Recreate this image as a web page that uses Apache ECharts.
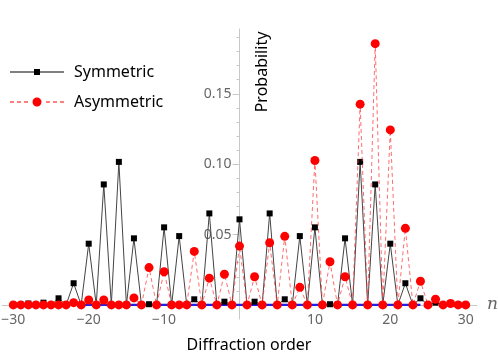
<!DOCTYPE html>
<html>
<head>
<meta charset="utf-8">
<script src="https://cdn.jsdelivr.net/npm/echarts@6/dist/echarts.min.js"></script>
<style>
  html, body { margin: 0; padding: 0; background: #fff; }
  #chart { width: 498px; height: 357px; }
</style>
</head>
<body>
<div id="chart"></div>
<script>
// diffraction orders -30 .. 30
const orders = [
  -30, -29, -28, -27, -26, -25, -24, -23, -22, -21, -20, -19, -18, -17, -16, -15,
  -14, -13, -12, -11, -10, -9, -8, -7, -6, -5, -4, -3, -2, -1, 0,
  1, 2, 3, 4, 5, 6, 7, 8, 9, 10, 11, 12, 13, 14, 15,
  16, 17, 18, 19, 20, 21, 22, 23, 24, 25, 26, 27, 28, 29, 30
];
const symmetric = [
  0, 0, 0.001, 0, 0.0016, 0, 0.0047, 0, 0.0154, 0, 0.0435, 0, 0.0856, 0, 0.1016, 0,
  0.0473, 0, 0.0005, 0, 0.0551, 0, 0.0489, 0, 0.004, 0, 0.065, 0, 0.0023, 0, 0.0608,
  0, 0.0023, 0, 0.065, 0, 0.004, 0, 0.0489, 0, 0.0551, 0, 0.0005, 0, 0.0473, 0,
  0.1016, 0, 0.0856, 0, 0.0435, 0, 0.0154, 0, 0.0047, 0, 0.0016, 0, 0.001, 0, 0
];
const asymmetric = [
  0, 0, 0, 0, 0, 0, 0, 0, 0.0016, 0, 0.0035, 0, 0.0035, 0, 0, 0,
  0.005, 0, 0.0265, 0, 0.0236, 0, 0, 0, 0.038, 0, 0.019, 0, 0.0218, 0, 0.0418,
  0, 0.020, 0, 0.0442, 0, 0.0487, 0, 0.0125, 0, 0.1026, 0, 0.0307, 0, 0.020, 0,
  0.1426, 0, 0.1856, 0, 0.1243, 0, 0.0544, 0, 0.0168, 0, 0.004, 0, 0.001, 0, 0
];
// blue zero line under the points
const baseOrders = [-21, 24];
const baseValues = [0, 0];

const xTicks = [-30, -20, -10, 10, 20, 30];
const yTicks = [0.05, 0.1, 0.15];
const yMinorTicks = [0.01, 0.02, 0.03, 0.04, 0.06, 0.07, 0.08, 0.09, 0.11, 0.12, 0.13, 0.14, 0.16, 0.17, 0.18, 0.19];

const pair = (xs, ys) => xs.map((x, i) => [x, ys[i]]);

let myChart = echarts.init(document.getElementById('chart'));

const fontFamily = "'Noto Sans', sans-serif";

// plot box and ranges (axes sit at the origin, like the original)
const xMin = -31.5, xMax = 31.5;
const yMin = -0.01, yMax = 0.196;
const gLeft = 2, gWidth = 475, gTop = 29, gHeight = 290;
const yAxisOffset = -gWidth * (0 - xMin) / (xMax - xMin);
const xAxisOffset = -gHeight * (0 - yMin) / (yMax - yMin);

// legend icons: line with marker in the middle
const symIcon = 'path://M0 6.6H54V7.4H0Z M24 4H30V10H24Z';
const asymIcon = 'path://M0 6.6H4V7.4H0Z M7 6.6H11V7.4H7Z M14 6.6H18V7.4H14Z M36 6.6H40V7.4H36Z M43 6.6H47V7.4H43Z M50 6.6H54V7.4H50Z M22.5 7A4.5 4.5 0 1 0 31.5 7A4.5 4.5 0 1 0 22.5 7Z';

let option = {
    backgroundColor: '#fff',
    animation: false,
    grid: {
        left: gLeft,
        width: gWidth,
        top: gTop,
        height: gHeight,
        containLabel: false,
        outerBoundsMode: 'none',
    },
    legend: {
        orient: 'vertical',
        left: 5,
        top: 59,
        itemWidth: 54,
        itemHeight: 14,
        itemGap: 14,
        textStyle: {
            fontFamily: fontFamily,
            fontSize: 16,
            color: '#000',
            padding: [0, 0, 0, 5],
        },
        data: [
            { name: 'Symmetric', icon: symIcon },
            { name: 'Asymmetric', icon: asymIcon },
        ],
    },
    xAxis: {
        type: 'value',
        min: xMin,
        max: xMax,
        position: 'bottom',
        offset: xAxisOffset,
        name: 'n',
        nameLocation: 'end',
        nameGap: 10,
        nameTextStyle: {
            fontFamily: "'DejaVu Serif', serif",
            fontStyle: 'italic',
            fontSize: 17,
            color: '#666',
        },
        axisLine: {
            onZero: false,
            lineStyle: { color: '#c8c8c8', width: 1 },
        },
        axisTick: { show: false },
        splitLine: { show: false },
        axisLabel: {
            customValues: xTicks,
            margin: 8,
            fontFamily: fontFamily,
            fontSize: 14,
            color: '#666',
            formatter: v => String(v).replace('-', '\u2212'),
        },
    },
    yAxis: [
        {
            type: 'value',
            min: yMin,
            max: yMax,
            position: 'left',
            offset: yAxisOffset,
            axisLine: {
                onZero: false,
                lineStyle: { color: '#c8c8c8', width: 1 },
            },
            axisTick: {
                show: true,
                customValues: yTicks,
                length: 7,
                lineStyle: { color: '#c8c8c8' },
            },
            splitLine: { show: false },
            axisLabel: {
                customValues: yTicks,
                margin: 8,
                fontFamily: fontFamily,
                fontSize: 14,
                color: '#666',
                formatter: v => v.toFixed(2),
            },
        },
        {
            type: 'value',
            min: yMin,
            max: yMax,
            position: 'left',
            offset: yAxisOffset,
            axisLine: { show: false, onZero: false },
            axisTick: {
                show: true,
                customValues: yMinorTicks,
                length: 3,
                lineStyle: { color: '#c8c8c8' },
            },
            splitLine: { show: false },
            axisLabel: { show: false },
        },
    ],
    graphic: [
        {
            type: 'text',
            x: 262,
            y: 72,
            rotation: Math.PI / 2,
            style: {
                text: 'Probability',
                fontFamily: fontFamily,
                fontSize: 16,
                fill: '#000',
                align: 'center',
                verticalAlign: 'middle',
            },
        },
        {
            type: 'text',
            x: 249,
            y: 345,
            style: {
                text: 'Diffraction order',
                fontFamily: fontFamily,
                fontSize: 16,
                fill: '#000',
                align: 'center',
                verticalAlign: 'middle',
            },
        },
    ],
    series: [
        {
            name: 'Baseline',
            type: 'line',
            data: pair(baseOrders, baseValues),
            showSymbol: false,
            silent: true,
            z: 1,
            lineStyle: { color: '#1f1fe6', width: 2.2 },
        },
        {
            name: 'Symmetric',
            type: 'line',
            data: pair(orders, symmetric),
            symbol: 'rect',
            symbolSize: 6,
            z: 2,
            itemStyle: { color: '#000' },
            lineStyle: { color: '#444', width: 1 },
        },
        {
            name: 'Asymmetric',
            type: 'line',
            data: pair(orders, asymmetric),
            symbol: 'circle',
            symbolSize: 9,
            z: 3,
            itemStyle: { color: '#ff0000' },
            lineStyle: { color: 'rgba(255, 60, 60, 0.75)', width: 1, type: [4, 3] },
        },
    ],
};

option && myChart.setOption(option);
</script>
</body>
</html>
